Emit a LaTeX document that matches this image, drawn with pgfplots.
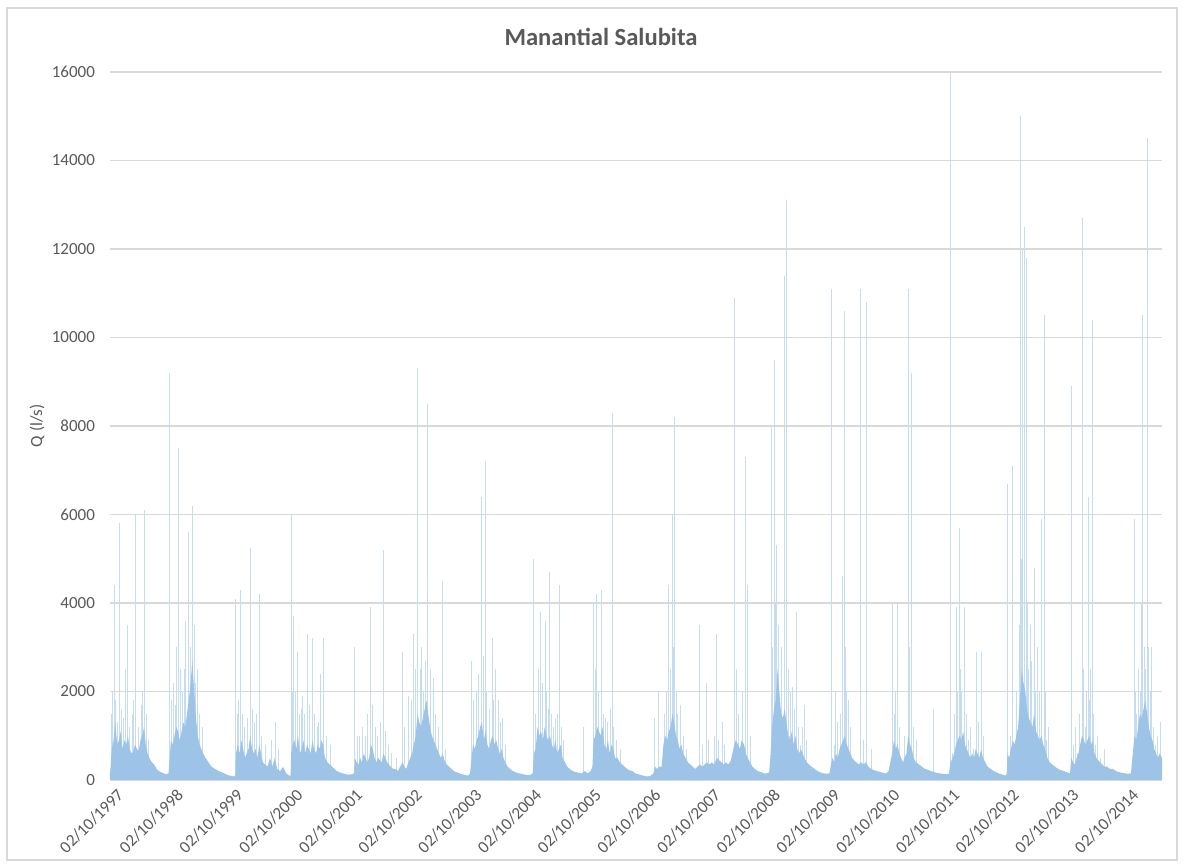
\documentclass[border=0pt]{standalone}
\usepackage{fontspec}
\setmainfont{Carlito}
\usepackage{pgfplots}
\usepackage{pgfplotstable}
\pgfplotsset{compat=1.18}
\definecolor{core}{HTML}{9DC3E6}
\definecolor{spike}{HTML}{C6DCF1}
\definecolor{txt}{HTML}{595959}
\definecolor{gridc}{HTML}{D9D9D9}

% daily discharge, core (base flow) envelope: t = years since 02/10/1997
\pgfplotstableread{
t v
0 150
0.01 300
0.03 700
0.06 900
0.09 1300
0.12 800
0.15 900
0.18 1100
0.21 700
0.24 900
0.27 800
0.30 1000
0.33 700
0.36 600
0.39 650
0.42 800
0.45 700
0.48 650
0.51 900
0.54 1000
0.57 1200
0.60 800
0.63 600
0.66 500
0.70 400
0.74 350
0.78 250
0.82 200
0.86 170
0.90 150
0.94 130
0.98 150
1.00 500
1.02 900
1.05 800
1.08 1000
1.11 1200
1.14 1100
1.17 900
1.20 1100
1.23 1300
1.26 1200
1.29 1500
1.32 1800
1.35 2200
1.38 2700
1.41 2000
1.44 1400
1.47 1000
1.50 800
1.53 700
1.56 600
1.60 500
1.65 400
1.70 300
1.76 250
1.82 200
1.88 170
1.94 130
2.00 100
2.08 80
2.10 100
2.11 600
2.14 800
2.17 600
2.20 900
2.23 700
2.26 500
2.29 600
2.32 700
2.35 1000
2.38 700
2.41 600
2.44 700
2.47 500
2.50 800
2.53 600
2.56 400
2.60 350
2.64 300
2.68 500
2.72 300
2.76 500
2.80 250
2.85 200
2.90 300
2.95 150
3.00 100
3.025 100
3.035 600
3.06 800
3.09 900
3.12 700
3.15 1000
3.18 600
3.21 700
3.24 900
3.27 600
3.30 800
3.33 700
3.36 600
3.39 900
3.42 700
3.45 600
3.48 800
3.51 700
3.54 900
3.57 800
3.60 500
3.64 400
3.68 350
3.72 300
3.76 250
3.80 200
3.85 170
3.90 150
3.95 130
4.00 120
4.05 130
4.09 150
4.10 500
4.13 400
4.16 350
4.19 500
4.22 400
4.25 600
4.28 500
4.31 400
4.34 500
4.37 800
4.40 700
4.43 500
4.46 400
4.49 500
4.52 450
4.55 400
4.58 600
4.61 500
4.64 400
4.67 350
4.70 300
4.74 250
4.78 250
4.82 200
4.86 300
4.90 400
4.93 300
4.96 250
5.00 400
5.03 500
5.06 600
5.09 800
5.12 1000
5.15 1500
5.18 1300
5.21 1200
5.24 1400
5.27 1600
5.30 1800
5.33 1500
5.36 1200
5.39 1000
5.42 900
5.45 800
5.48 700
5.51 600
5.54 500
5.57 600
5.60 450
5.64 350
5.68 300
5.72 250
5.76 200
5.80 180
5.85 150
5.90 130
5.95 110
6.00 100
6.03 150
6.05 400
6.08 800
6.11 700
6.14 900
6.17 1000
6.20 1200
6.23 1300
6.26 900
6.29 1100
6.32 800
6.35 700
6.38 900
6.41 1000
6.44 800
6.47 900
6.50 700
6.53 600
6.56 700
6.59 500
6.62 400
6.66 300
6.70 250
6.75 200
6.80 170
6.85 150
6.90 140
6.95 120
7.00 110
7.05 120
7.08 150
7.10 600
7.13 700
7.16 1200
7.19 1000
7.22 1100
7.25 900
7.28 1200
7.31 1000
7.34 900
7.37 1000
7.40 800
7.43 700
7.46 900
7.49 600
7.52 700
7.55 800
7.58 500
7.62 400
7.66 300
7.70 250
7.75 200
7.80 180
7.85 160
7.90 150
7.95 200
8.00 150
8.05 200
8.08 300
8.10 900
8.13 1000
8.16 1200
8.19 1100
8.22 1000
8.25 1200
8.28 800
8.31 700
8.34 900
8.37 600
8.40 800
8.43 700
8.46 500
8.50 500
8.54 400
8.58 350
8.62 300
8.66 250
8.70 220
8.75 200
8.80 150
8.85 130
8.90 110
8.95 90
9.00 80
9.05 90
9.10 150
9.13 300
9.16 250
9.20 300
9.24 300
9.27 800
9.30 1000
9.33 900
9.36 1100
9.39 1200
9.42 1500
9.45 1300
9.48 1000
9.51 900
9.54 700
9.57 800
9.60 600
9.64 500
9.68 400
9.72 350
9.76 300
9.80 250
9.84 300
9.88 350
9.92 300
9.96 350
10.00 400
10.04 350
10.08 400
10.12 350
10.16 500
10.20 450
10.24 400
10.28 350
10.32 400
10.36 350
10.40 450
10.44 700
10.48 900
10.52 800
10.55 700
10.58 900
10.62 800
10.65 600
10.68 500
10.72 400
10.76 300
10.80 250
10.85 200
10.90 180
10.95 150
11.00 150
11.04 170
11.06 500
11.09 1200
11.12 1600
11.15 1800
11.18 2500
11.21 2000
11.24 1500
11.27 1400
11.30 1600
11.33 1300
11.36 1000
11.39 900
11.42 1100
11.45 800
11.48 1000
11.51 700
11.54 600
11.57 700
11.60 600
11.63 500
11.67 400
11.71 350
11.75 300
11.80 250
11.85 200
11.90 170
11.95 150
12.00 140
12.05 150
12.07 300
12.10 500
12.13 400
12.16 600
12.19 500
12.22 700
12.25 800
12.28 900
12.31 1000
12.34 800
12.37 700
12.40 600
12.43 500
12.46 450
12.50 400
12.54 350
12.58 400
12.62 350
12.66 400
12.70 300
12.75 250
12.80 220
12.85 200
12.90 180
12.95 160
13.00 150
13.04 200
13.07 400
13.10 600
13.13 900
13.16 700
13.19 800
13.22 600
13.25 500
13.28 400
13.31 500
13.34 600
13.37 1000
13.40 800
13.43 700
13.46 500
13.50 400
13.55 350
13.60 300
13.65 250
13.70 230
13.75 200
13.80 180
13.85 160
13.90 150
13.95 140
14.00 130
14.05 130
14.08 400
14.11 500
14.14 600
14.17 800
14.20 900
14.23 1000
14.26 900
14.29 1100
14.32 800
14.35 700
14.38 600
14.41 500
14.44 600
14.47 500
14.50 700
14.53 600
14.56 500
14.59 700
14.62 500
14.66 400
14.70 300
14.75 250
14.80 200
14.85 170
14.90 140
14.95 120
15.00 100
15.02 150
15.03 600
15.06 500
15.09 700
15.12 900
15.15 800
15.18 1000
15.21 1200
15.24 1800
15.27 2500
15.30 2200
15.33 2000
15.36 1600
15.39 1400
15.42 1300
15.45 1200
15.48 1500
15.51 1100
15.54 1000
15.57 900
15.60 1000
15.63 800
15.66 700
15.70 500
15.74 400
15.78 350
15.83 300
15.88 250
15.93 220
15.98 200
16.03 170
16.08 150
16.10 500
16.13 400
16.16 350
16.19 500
16.22 600
16.25 800
16.28 1000
16.31 900
16.34 800
16.37 900
16.40 1000
16.43 800
16.46 900
16.49 600
16.52 500
16.55 450
16.58 400
16.62 350
16.66 300
16.70 300
16.75 250
16.80 250
16.85 200
16.90 180
16.95 160
17.00 150
17.05 140
17.10 150
17.13 600
17.16 1000
17.19 900
17.22 1200
17.25 1500
17.28 1400
17.31 1600
17.34 1800
17.37 1500
17.40 1200
17.43 1000
17.46 900
17.49 700
17.52 600
17.55 500
17.58 600
17.62 500
}\coretable

% daily peaks (floods)
\pgfplotstableread{
t v
0.02 1500
0.05 2000
0.073 4400
0.10 1800
0.13 1300
0.162 5800
0.20 1600
0.23 1400
0.26 2500
0.290 3500
0.33 1200
0.37 1500
0.40 1800
0.430 6000
0.47 1200
0.52 1700
0.55 2000
0.575 6100
0.61 1500
0.65 900
0.994 9200
1.03 1800
1.06 2200
1.09 1700
1.12 3000
1.145 7500
1.18 2500
1.21 2000
1.24 2500
1.27 3600
1.312 5600
1.34 3000
1.385 6200
1.41 3500
1.44 2200
1.468 2500
1.50 1500
1.55 1200
2.105 4100
2.13 1500
2.16 1800
2.194 4300
2.22 1500
2.26 1200
2.30 1400
2.351 5250
2.38 1600
2.42 1300
2.46 1500
2.501 4200
2.54 1000
2.60 800
2.70 900
2.764 1300
2.83 700
3.032 6000
3.054 2000
3.071 3700
3.10 2000
3.138 2900
3.17 1500
3.20 1600
3.222 1900
3.26 1500
3.311 3300
3.34 1700
3.395 3200
3.43 1500
3.47 1200
3.50 1300
3.529 2400
3.573 3200
3.62 1000
3.685 800
4.098 3000
4.14 1000
4.187 1000
4.23 1200
4.271 1000
4.32 1500
4.361 3900
4.400 1700
4.44 1200
4.48 1000
4.523 1300
4.584 5200
4.62 1100
4.662 800
4.72 600
4.80 500
4.891 2900
4.94 1200
4.997 1900
5.05 1800
5.081 3300
5.11 2500
5.154 9300
5.193 2500
5.22 3000
5.249 2000
5.28 2700
5.321 8500
5.36 2500
5.410 2300
5.45 1500
5.50 1200
5.572 4500
5.62 700
6.063 2700
6.09 1800
6.14 2000
6.18 2400
6.220 6400
6.25 2800
6.287 7200
6.31 2000
6.35 1600
6.404 3200
6.43 1800
6.459 2500
6.504 1800
6.54 1300
6.576 1400
6.62 800
7.097 5000
7.13 1500
7.164 1000
7.18 2500
7.214 3800
7.25 2200
7.287 3600
7.31 2000
7.34 1600
7.365 4700
7.40 1500
7.426 1200
7.47 1400
7.50 1500
7.532 4400
7.56 1200
7.60 900
7.935 1200
8.102 4000
8.13 2500
8.152 4200
8.19 2000
8.230 4300
8.27 1500
8.30 1400
8.34 1300
8.376 1600
8.409 8300
8.44 1200
8.49 900
8.548 700
9.112 1400
9.179 2000
9.291 1500
9.32 2000
9.352 4400
9.38 2500
9.414 6000
9.44 3000
9.458 8200
9.48 2000
9.509 1500
9.559 1700
9.60 1000
9.648 700
9.877 3500
9.92 800
9.989 2200
10.03 900
10.12 1000
10.162 3300
10.20 900
10.257 1300
10.30 800
10.464 10900
10.49 2500
10.53 1500
10.586 2000
10.642 7300
10.681 4400
10.72 1000
11.083 8000
11.10 3000
11.122 9500
11.145 4000
11.166 5300
11.19 3500
11.222 1500
11.25 3000
11.290 11400
11.335 13100
11.36 2500
11.379 1000
11.40 2000
11.424 2100
11.46 1600
11.496 3800
11.53 1200
11.558 800
11.60 1200
11.630 1700
11.67 900
12.088 11100
12.127 800
12.155 2000
12.18 1300
12.230 1500
12.261 4600
12.300 10600
12.32 3000
12.340 2000
12.368 1800
12.41 1200
12.563 11100
12.62 900
12.669 10800
12.75 700
13.104 4000
13.138 1500
13.16 2000
13.194 4000
13.23 1200
13.30 1000
13.372 11100
13.395 3000
13.417 9200
13.456 1200
13.50 900
13.791 1600
14.076 16000
14.115 600
14.15 1500
14.182 3900
14.20 2000
14.227 5700
14.25 2500
14.267 2000
14.311 3900
14.34 1500
14.378 900
14.42 1200
14.462 700
14.518 2900
14.55 1300
14.591 2900
14.63 1000
15.031 6700
15.076 1000
15.120 7100
15.159 800
15.19 2000
15.215 1000
15.23 3500
15.254 15000
15.27 5000
15.288 12000
15.316 12500
15.344 11800
15.36 4000
15.383 2500
15.41 3500
15.439 2700
15.478 4800
15.50 2000
15.534 3000
15.56 2000
15.606 5900
15.650 10500
15.67 2000
15.690 900
15.72 1200
16.108 8900
16.136 800
16.17 1200
16.203 600
16.24 1500
16.287 12700
16.31 2500
16.331 1200
16.36 2000
16.387 6400
16.41 1800
16.426 2500
16.454 10400
16.48 1500
16.499 800
16.54 1000
16.583 500
16.65 700
17.152 5900
17.18 2000
17.197 1500
17.23 2500
17.253 2000
17.27 4000
17.292 10500
17.32 3000
17.337 2500
17.376 14500
17.40 3000
17.421 2000
17.449 3000
17.48 1200
17.505 800
17.55 1000
17.589 1300
}\spiketable

\begin{document}
\begin{tikzpicture}
\useasboundingbox (-55pt,-42.5pt) rectangle (537pt,390pt);
\draw[gridc, line width=0.6pt] (-51.5pt,-40pt) rectangle (533.5pt,386pt);
\begin{axis}[
  at={(0pt,0pt)}, anchor=south west,
  scale only axis, width=526pt, height=354pt,
  xmin=0, xmax=17.62, ymin=0, ymax=16000,
  axis line style={draw=none},
  tick style={draw=none},
  ymajorgrids, grid style={gridc, line width=0.6pt},
  ytick={0,2000,...,16000},
  scaled y ticks=false,
  /pgf/number format/.cd, 1000 sep={}, assume math mode=true,
  /pgfplots/.cd,
  xtick={0,1,...,17},
  xticklabels={02/10/1997,02/10/1998,02/10/1999,02/10/2000,02/10/2001,02/10/2002,02/10/2003,02/10/2004,02/10/2005,02/10/2006,02/10/2007,02/10/2008,02/10/2009,02/10/2010,02/10/2011,02/10/2012,02/10/2013,02/10/2014},
  tick label style={font=\fontsize{8.5}{10}\selectfont, text=txt},
  yticklabel style={xshift=-4pt},
  xticklabel style={rotate=45, anchor=east, xshift=3pt, yshift=-8pt},
  title={Manantial Salubita},
  title style={at={(axis description cs:0.4667,1.0325)}, anchor=center, font=\bfseries\fontsize{12.3}{14}\selectfont, text=txt},
  ylabel={Q (l/s)},
  ylabel style={at={(axis description cs:-0.0694,0.5)}, anchor=center, font=\fontsize{8.5}{10}\selectfont, text=txt},
  clip=true,
]
\addplot[ycomb, draw=spike, line width=0.5pt, mark=none] table[x=t, y=v] {\spiketable};
\addplot[fill=core, draw=none, mark=none] table[x=t, y=v] {\coretable} \closedcycle;
\end{axis}
\end{tikzpicture}
\end{document}
